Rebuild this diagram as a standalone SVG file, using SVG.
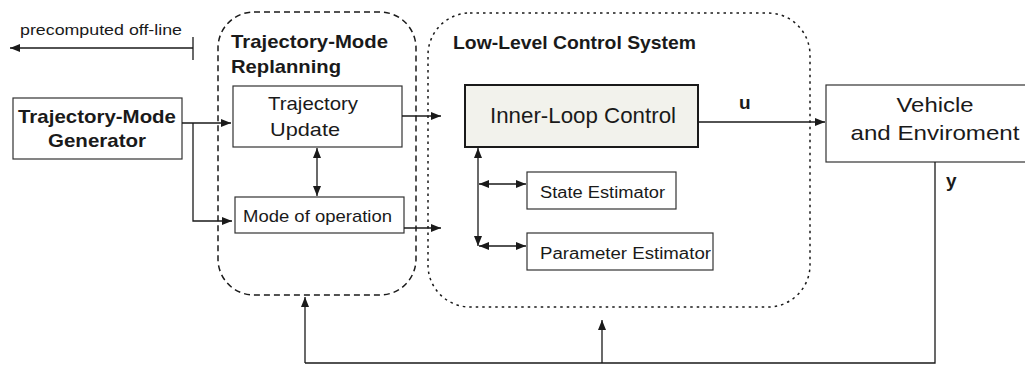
<svg xmlns="http://www.w3.org/2000/svg" width="1025" height="369" viewBox="0 0 1025 369">
  <defs>
    <marker id="arrow" viewBox="0 0 10 8" markerUnits="userSpaceOnUse" markerWidth="10" markerHeight="8" refX="10" refY="4" orient="auto-start-reverse">
      <path d="M0,0 L10,4 L0,8 z" fill="#1a1a1a"/>
    </marker>
  </defs>
  <style>
    .txt { font-family: "Liberation Sans", Arial, sans-serif; fill: #1a1a1a; }
    .bold { font-weight: bold; }
    .box { fill: #ffffff; stroke: #333; stroke-width: 1.2; }
    .wire { fill: none; stroke: #1a1a1a; stroke-width: 1.3; }
    .arr { marker-end: url(#arrow); }
    .both { marker-start: url(#arrow); marker-end: url(#arrow); }
  </style>
  <rect width="1025" height="369" fill="#ffffff"/>

  <!-- subsystem boundaries -->
  <g id="replanning">
    <rect x="218" y="12" width="198" height="283" rx="36" fill="none" stroke="#1a1a1a" stroke-width="1.5" stroke-dasharray="6,4"/>
    <text class="txt bold" x="231" y="48" font-size="19" textLength="157" lengthAdjust="spacingAndGlyphs">Trajectory-Mode</text>
    <text class="txt bold" x="231" y="73" font-size="19" textLength="110" lengthAdjust="spacingAndGlyphs">Replanning</text>
  </g>
  <g id="low-level">
    <rect x="428" y="13" width="382" height="294" rx="42" fill="none" stroke="#1a1a1a" stroke-width="1.5" stroke-dasharray="2.5,4"/>
    <text class="txt bold" x="453" y="49" font-size="19" textLength="243" lengthAdjust="spacingAndGlyphs">Low-Level Control System</text>
  </g>

  <!-- nodes -->
  <g id="generator">
    <rect class="box" x="13" y="98" width="169" height="61" stroke-width="1.5"/>
    <text class="txt bold" x="97" y="123" font-size="19" text-anchor="middle" textLength="158" lengthAdjust="spacingAndGlyphs">Trajectory-Mode</text>
    <text class="txt bold" x="97" y="147" font-size="19" text-anchor="middle" textLength="98" lengthAdjust="spacingAndGlyphs">Generator</text>
  </g>
  <g id="trajectory-update">
    <rect class="box" x="233" y="86" width="169" height="61"/>
    <text class="txt" x="313" y="110" font-size="19" text-anchor="middle" textLength="90" lengthAdjust="spacingAndGlyphs">Trajectory</text>
    <text class="txt" x="305" y="136" font-size="19" text-anchor="middle" textLength="70" lengthAdjust="spacingAndGlyphs">Update</text>
  </g>
  <g id="mode-of-operation">
    <rect class="box" x="235" y="197" width="169" height="36"/>
    <text class="txt" x="243" y="222" font-size="17" textLength="149" lengthAdjust="spacingAndGlyphs">Mode of operation</text>
  </g>
  <g id="inner-loop">
    <rect x="465" y="85" width="233" height="62" fill="#f2f2ec" stroke="#1a1a1a" stroke-width="2"/>
    <text class="txt" x="583" y="123" font-size="22" text-anchor="middle" textLength="186" lengthAdjust="spacingAndGlyphs">Inner-Loop Control</text>
  </g>
  <g id="state-estimator">
    <rect class="box" x="527" y="172" width="149" height="37"/>
    <text class="txt" x="540" y="198" font-size="16" textLength="125" lengthAdjust="spacingAndGlyphs">State Estimator</text>
  </g>
  <g id="parameter-estimator">
    <rect class="box" x="527" y="233" width="186" height="37"/>
    <text class="txt" x="540" y="259" font-size="16" textLength="171" lengthAdjust="spacingAndGlyphs">Parameter Estimator</text>
  </g>
  <g id="vehicle">
    <rect class="box" x="826" y="85" width="210" height="77"/>
    <text class="txt" x="935" y="112" font-size="21" text-anchor="middle" textLength="77" lengthAdjust="spacingAndGlyphs">Vehicle</text>
    <text class="txt" x="935" y="140" font-size="21" text-anchor="middle" textLength="169" lengthAdjust="spacingAndGlyphs">and Enviroment</text>
  </g>

  <!-- connectors -->
  <g id="connectors">
    <!-- off-line output -->
    <path class="wire arr" d="M193,48 H10"/>
    <path class="wire" d="M193,37 V60"/>
    <text class="txt" x="20" y="35" font-size="14" textLength="162" lengthAdjust="spacingAndGlyphs">precomputed off-line</text>

    <!-- generator to replanning -->
    <path class="wire arr" d="M182,123 H231"/>
    <path class="wire arr" d="M193,123 V221 H232"/>

    <!-- between replanning blocks -->
    <path class="wire both" d="M317,148 V196"/>

    <!-- replanning to low-level -->
    <path class="wire arr" d="M402,116 H441"/>
    <path class="wire arr" d="M404,228 H441"/>

    <!-- control output u -->
    <path class="wire arr" d="M698,122 H825"/>
    <text class="txt bold" x="739" y="109" font-size="19">u</text>

    <!-- estimator bus -->
    <path class="wire both" d="M478,148 V246" stroke="#444"/>
    <path class="wire both" d="M479,184 H526" stroke="#444"/>
    <path class="wire both" d="M479,246 H526" stroke="#444"/>

    <!-- measurement feedback y -->
    <path class="wire" d="M935,162 V363 H305"/>
    <text class="txt bold" x="946" y="187" font-size="19">y</text>
    <path class="wire arr" d="M305,363 V297"/>
    <path class="wire arr" d="M602,363 V320"/>
  </g>
</svg>
